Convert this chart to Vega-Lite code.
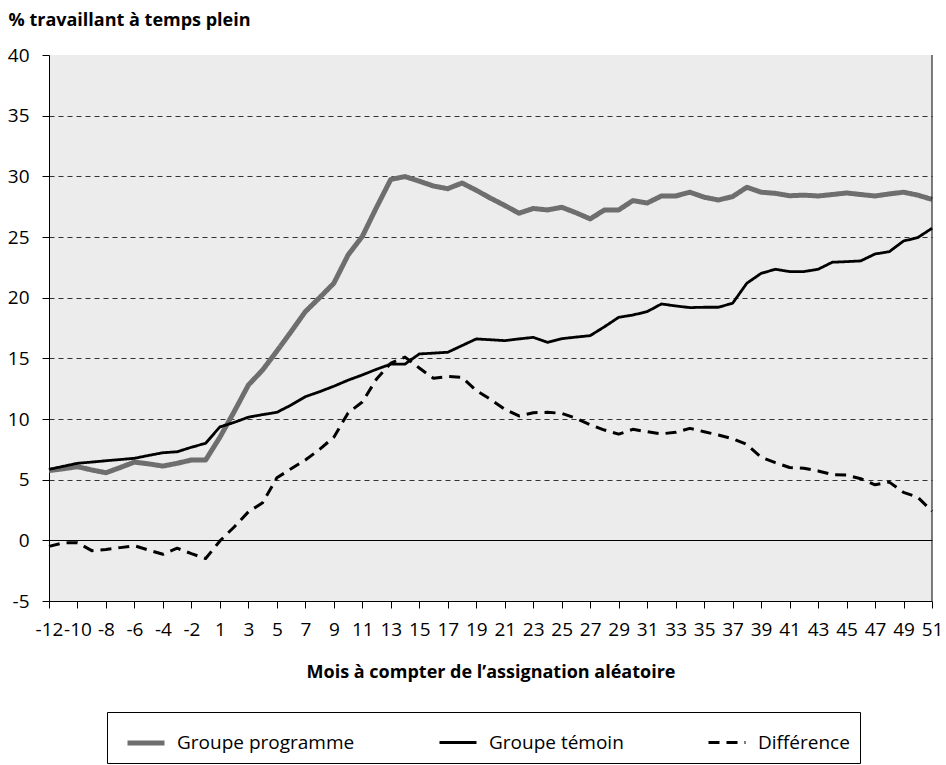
{
  "$schema": "https://vega.github.io/schema/vega-lite/v6.json",
  "width": 883,
  "height": 546,
  "autosize": {"type": "none"},
  "padding": {"left": 49, "top": 55, "right": 14, "bottom": 164},
  "background": "white",
  "config": {
    "font": "Open Sans",
    "view": {"fill": "#ECECEC", "stroke": null}
  },
  "data": {
    "values": [
      {"mois": -12, "Groupe programme": 5.75, "Groupe témoin": 5.85, "Différence": -0.5},
      {"mois": -11, "Groupe programme": 5.9, "Groupe témoin": 6.1, "Différence": -0.2},
      {"mois": -10, "Groupe programme": 6.07, "Groupe témoin": 6.35, "Différence": -0.2},
      {"mois": -9, "Groupe programme": 5.8, "Groupe témoin": 6.45, "Différence": -0.85},
      {"mois": -8, "Groupe programme": 5.57, "Groupe témoin": 6.56, "Différence": -0.75},
      {"mois": -7, "Groupe programme": 6.0, "Groupe témoin": 6.66, "Différence": -0.6},
      {"mois": -6, "Groupe programme": 6.45, "Groupe témoin": 6.76, "Différence": -0.45},
      {"mois": -5, "Groupe programme": 6.3, "Groupe témoin": 7.0, "Différence": -0.8},
      {"mois": -4, "Groupe programme": 6.12, "Groupe témoin": 7.22, "Différence": -1.15},
      {"mois": -3, "Groupe programme": 6.35, "Groupe témoin": 7.3, "Différence": -0.65},
      {"mois": -2, "Groupe programme": 6.62, "Groupe témoin": 7.67, "Différence": -1.1},
      {"mois": -1, "Groupe programme": 6.62, "Groupe témoin": 8.0, "Différence": -1.5},
      {"mois": 1, "Groupe programme": 8.5, "Groupe témoin": 9.35, "Différence": -0.05},
      {"mois": 2, "Groupe programme": 10.6, "Groupe témoin": 9.72, "Différence": 1.1},
      {"mois": 3, "Groupe programme": 12.8, "Groupe témoin": 10.15, "Différence": 2.35},
      {"mois": 4, "Groupe programme": 14.04, "Groupe témoin": 10.36, "Différence": 3.1},
      {"mois": 5, "Groupe programme": 15.6, "Groupe témoin": 10.55, "Différence": 5.15},
      {"mois": 6, "Groupe programme": 17.2, "Groupe témoin": 11.15, "Différence": 5.9},
      {"mois": 7, "Groupe programme": 18.85, "Groupe témoin": 11.84, "Différence": 6.62},
      {"mois": 8, "Groupe programme": 20.0, "Groupe témoin": 12.25, "Différence": 7.5},
      {"mois": 9, "Groupe programme": 21.19, "Groupe témoin": 12.7, "Différence": 8.5},
      {"mois": 10, "Groupe programme": 23.52, "Groupe témoin": 13.2, "Différence": 10.5},
      {"mois": 11, "Groupe programme": 25.05, "Groupe témoin": 13.63, "Différence": 11.4},
      {"mois": 12, "Groupe programme": 27.45, "Groupe témoin": 14.1, "Différence": 13.3},
      {"mois": 13, "Groupe programme": 29.75, "Groupe témoin": 14.52, "Différence": 14.6},
      {"mois": 14, "Groupe programme": 29.98, "Groupe témoin": 14.53, "Différence": 15.1},
      {"mois": 15, "Groupe programme": 29.6, "Groupe témoin": 15.36, "Différence": 14.2},
      {"mois": 16, "Groupe programme": 29.2, "Groupe témoin": 15.43, "Différence": 13.35},
      {"mois": 17, "Groupe programme": 28.98, "Groupe témoin": 15.5, "Différence": 13.5},
      {"mois": 18, "Groupe programme": 29.45, "Groupe témoin": 16.05, "Différence": 13.43},
      {"mois": 19, "Groupe programme": 28.85, "Groupe témoin": 16.6, "Différence": 12.35},
      {"mois": 20, "Groupe programme": 28.2, "Groupe témoin": 16.53, "Différence": 11.62},
      {"mois": 21, "Groupe programme": 27.6, "Groupe témoin": 16.46, "Différence": 10.8},
      {"mois": 22, "Groupe programme": 26.96, "Groupe témoin": 16.6, "Différence": 10.25},
      {"mois": 23, "Groupe programme": 27.35, "Groupe témoin": 16.73, "Différence": 10.52},
      {"mois": 24, "Groupe programme": 27.23, "Groupe témoin": 16.32, "Différence": 10.55},
      {"mois": 25, "Groupe programme": 27.45, "Groupe témoin": 16.62, "Différence": 10.47},
      {"mois": 26, "Groupe programme": 27.0, "Groupe témoin": 16.75, "Différence": 10.06},
      {"mois": 27, "Groupe programme": 26.49, "Groupe témoin": 16.87, "Différence": 9.53},
      {"mois": 28, "Groupe programme": 27.23, "Groupe témoin": 17.6, "Différence": 9.09},
      {"mois": 29, "Groupe programme": 27.23, "Groupe témoin": 18.38, "Différence": 8.75},
      {"mois": 30, "Groupe programme": 28.0, "Groupe témoin": 18.57, "Différence": 9.15},
      {"mois": 31, "Groupe programme": 27.8, "Groupe témoin": 18.85, "Différence": 8.95},
      {"mois": 32, "Groupe programme": 28.38, "Groupe témoin": 19.48, "Différence": 8.78},
      {"mois": 33, "Groupe programme": 28.38, "Groupe témoin": 19.32, "Différence": 8.9},
      {"mois": 34, "Groupe programme": 28.69, "Groupe témoin": 19.18, "Différence": 9.23},
      {"mois": 35, "Groupe programme": 28.28, "Groupe témoin": 19.21, "Différence": 8.95},
      {"mois": 36, "Groupe programme": 28.05, "Groupe témoin": 19.21, "Différence": 8.68},
      {"mois": 37, "Groupe programme": 28.33, "Groupe témoin": 19.54, "Différence": 8.38},
      {"mois": 38, "Groupe programme": 29.1, "Groupe témoin": 21.19, "Différence": 7.9},
      {"mois": 39, "Groupe programme": 28.69, "Groupe témoin": 22.0, "Différence": 6.85},
      {"mois": 40, "Groupe programme": 28.6, "Groupe témoin": 22.34, "Différence": 6.4},
      {"mois": 41, "Groupe programme": 28.4, "Groupe témoin": 22.15, "Différence": 6.0},
      {"mois": 42, "Groupe programme": 28.45, "Groupe témoin": 22.15, "Différence": 5.94},
      {"mois": 43, "Groupe programme": 28.38, "Groupe témoin": 22.34, "Différence": 5.72},
      {"mois": 44, "Groupe programme": 28.5, "Groupe témoin": 22.92, "Différence": 5.42},
      {"mois": 45, "Groupe programme": 28.63, "Groupe témoin": 22.97, "Différence": 5.38},
      {"mois": 46, "Groupe programme": 28.5, "Groupe témoin": 23.03, "Différence": 5.08},
      {"mois": 47, "Groupe programme": 28.38, "Groupe témoin": 23.6, "Différence": 4.58},
      {"mois": 48, "Groupe programme": 28.55, "Groupe témoin": 23.79, "Différence": 4.8},
      {"mois": 49, "Groupe programme": 28.69, "Groupe témoin": 24.67, "Différence": 3.95},
      {"mois": 50, "Groupe programme": 28.45, "Groupe témoin": 24.95, "Différence": 3.55},
      {"mois": 51, "Groupe programme": 28.1, "Groupe témoin": 25.72, "Différence": 2.4}
    ]
  },
  "transform": [
    {"fold": ["Groupe programme", "Groupe témoin", "Différence"], "as": ["serie", "valeur"]}
  ],
  "layer": [
    {
      "mark": {"type": "line", "strokeJoin": "round"},
      "encoding": {
        "x": {
          "field": "mois",
          "type": "ordinal",
          "scale": {"type": "point", "padding": 0},
          "axis": {
            "values": [-12, -10, -8, -6, -4, -2, 1, 3, 5, 7, 9, 11, 13, 15, 17, 19, 21, 23, 25, 27, 29, 31, 33, 35, 37, 39, 41, 43, 45, 47, 49, 51],
            "labelAngle": 0,
            "labelFont": "Open Sans",
            "labelFontSize": 19,
            "labelColor": "black",
            "labelPadding": 12,
            "tickColor": "black",
            "tickSize": 7,
            "domainColor": "black",
            "domainWidth": 1,
            "grid": false,
            "title": "Mois à compter de l’assignation aléatoire",
            "titleFont": "Open Sans",
            "titleFontSize": 18,
            "titleFontWeight": "bold",
            "titleColor": "black",
            "titlePadding": 24
          }
        },
        "y": {
          "field": "valeur",
          "type": "quantitative",
          "scale": {"domain": [-5, 40], "nice": false, "zero": false},
          "axis": {
            "values": [-5, 0, 5, 10, 15, 20, 25, 30, 35, 40],
            "labelExpr": "'' + datum.value",
            "labelFont": "Open Sans",
            "labelFontSize": 19,
            "labelColor": "black",
            "labelPadding": 13,
            "tickColor": "black",
            "tickSize": 7,
            "domainColor": "black",
            "domainWidth": 1,
            "grid": true,
            "gridColor": {"condition": {"test": "datum.value === 0", "value": "black"}, "value": "#333333"},
            "gridDash": {"condition": {"test": "datum.value === 0", "value": []}, "value": [5, 4]},
            "gridOpacity": {"condition": {"test": "datum.value === 40 || datum.value === -5", "value": 0}, "value": 1},
            "gridWidth": 1,
            "title": "% travaillant à temps plein",
            "titleFont": "Open Sans",
            "titleFontSize": 18,
            "titleFontWeight": "bold",
            "titleColor": "black",
            "titleAngle": 0,
            "titleAlign": "left",
            "titleBaseline": "alphabetic",
            "titleX": -41,
            "titleY": -30
          }
        },
        "color": {
          "field": "serie",
          "type": "nominal",
          "scale": {"domain": ["Groupe programme", "Groupe témoin", "Différence"], "range": ["#6E6E6E", "#000000", "#000000"]},
          "legend": {
            "title": null,
            "orient": "none",
            "legendX": 58,
            "legendY": 657,
            "direction": "horizontal",
            "columns": 3,
            "columnPadding": 74,
            "symbolType": "stroke",
            "symbolSize": 1369,
            "symbolOffset": 8,
            "labelFont": "Open Sans",
            "labelFontSize": 19,
            "labelColor": "black",
            "labelOffset": 10,
            "labelLimit": 400,
            "strokeColor": "black",
            "fillColor": "white",
            "padding": 10
          }
        },
        "strokeDash": {
          "field": "serie",
          "type": "nominal",
          "scale": {"domain": ["Groupe programme", "Groupe témoin", "Différence"], "range": [[1, 0], [1, 0], [11, 7]]}
        },
        "strokeWidth": {
          "field": "serie",
          "type": "nominal",
          "scale": {"type": "ordinal", "domain": ["Groupe programme", "Groupe témoin", "Différence"], "range": [5, 2.8, 3]}
        }
      }
    },
    {
      "data": {"values": [{"bord": "droit"}]},
      "mark": {"type": "rule", "color": "black", "strokeWidth": 1},
      "encoding": {"x": {"datum": 51, "type": "ordinal"}}
    }
  ]
}
